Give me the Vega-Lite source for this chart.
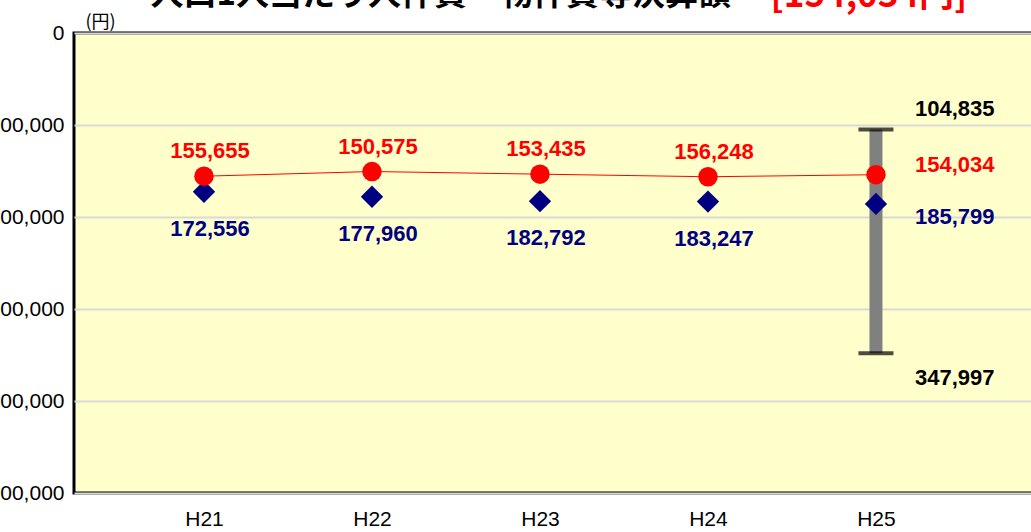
{
  "$schema": "https://vega.github.io/schema/vega-lite/v6.json",
  "autosize": {"type": "none"},
  "padding": {"left": 74, "top": 33, "right": 0, "bottom": 39},
  "width": 980,
  "height": 460,
  "background": "white",
  "config": {
    "view": {"fill": "#FFFFCC", "stroke": "black", "strokeWidth": 3},
    "font": "Liberation Sans"
  },
  "data": {
    "values": [
      {"year": "H21", "value": 155655, "avg": 172556, "lo": null, "hi": null},
      {"year": "H22", "value": 150575, "avg": 177960, "lo": null, "hi": null},
      {"year": "H23", "value": 153435, "avg": 182792, "lo": null, "hi": null},
      {"year": "H24", "value": 156248, "avg": 183247, "lo": null, "hi": null},
      {"year": "H25", "value": 154034, "avg": 185799, "lo": 104835, "hi": 347997}
    ]
  },
  "encoding": {
    "x": {
      "field": "year",
      "type": "ordinal",
      "scale": {"type": "point", "padding": 0.9167, "align": 0.422},
      "axis": null
    }
  },
  "resolve": {"axis": {"x": "independent", "y": "independent"}},
  "layer": [
    {
      "transform": [{"filter": "datum.lo != null"}],
      "mark": {"type": "rule", "color": "#808080", "strokeWidth": 13},
      "encoding": {
        "x": {
          "field": "year",
          "type": "ordinal",
          "scale": {"type": "point", "padding": 0.9167, "align": 0.422},
          "axis": {
            "orient": "bottom",
            "labelFont": "Liberation Sans",
            "labelFontSize": 21,
            "labelColor": "black",
            "labelPadding": 15,
            "labelAngle": 0,
            "ticks": false,
            "tickSize": 0,
            "domain": false,
            "grid": false,
            "title": "人口1人当たり人件費・物件費等決算額",
            "titleX": 76,
            "titleY": -489,
            "titleAlign": "left",
            "titleAnchor": null,
            "titleBaseline": "alphabetic",
            "titleFont": "Noto Sans CJK JP",
            "titleFontSize": 33,
            "titleFontWeight": "bold",
            "titleColor": "black"
          }
        },
        "y": {
          "field": "lo",
          "type": "quantitative",
          "scale": {"domain": [0, 500000], "reverse": true, "nice": false},
          "axis": {
            "orient": "left",
            "values": [0, 100000, 200000, 300000, 400000, 500000],
            "labelExpr": "format(datum.value, ',')",
            "labelFont": "Liberation Sans",
            "labelFontSize": 21,
            "labelColor": "black",
            "labelPadding": 10,
            "ticks": false,
            "tickSize": 0,
            "domain": false,
            "grid": true,
            "gridColor": "#D9D9D9",
            "gridWidth": 2,
            "title": "(円)",
            "titleAngle": 0,
            "titleX": 11,
            "titleY": -6,
            "titleAlign": "left",
            "titleAnchor": null,
            "titleBaseline": "alphabetic",
            "titleFont": "Noto Sans CJK JP",
            "titleFontSize": 18,
            "titleFontWeight": "normal",
            "titleColor": "black"
          }
        },
        "y2": {"field": "hi"}
      }
    },
    {
      "transform": [{"filter": "datum.lo != null"}],
      "mark": {"type": "tick", "color": "black", "size": 35, "thickness": 4},
      "encoding": {
        "y": {"field": "lo", "type": "quantitative", "axis": null}
      }
    },
    {
      "transform": [{"filter": "datum.hi != null"}],
      "mark": {"type": "tick", "color": "black", "size": 35, "thickness": 4},
      "encoding": {
        "y": {"field": "hi", "type": "quantitative", "axis": null}
      }
    },
    {
      "mark": {"type": "point", "shape": "diamond", "filled": true, "color": "#000080", "size": 500, "opacity": 1},
      "encoding": {
        "y": {"field": "avg", "type": "quantitative", "axis": null}
      }
    },
    {
      "mark": {"type": "line", "color": "#FF0000", "strokeWidth": 1},
      "encoding": {
        "y": {"field": "value", "type": "quantitative", "axis": null}
      }
    },
    {
      "mark": {"type": "circle", "color": "#FF0000", "size": 380, "opacity": 1},
      "encoding": {
        "x": {
          "field": "year",
          "type": "ordinal",
          "scale": {"type": "point", "padding": 0.9167, "align": 0.422},
          "axis": {
            "orient": "top",
            "labels": false,
            "ticks": false,
            "domain": false,
            "grid": false,
            "title": "[154,034円]",
            "titleX": 696,
            "titleY": -27,
            "titleAlign": "left",
            "titleAnchor": null,
            "titleBaseline": "alphabetic",
            "titleFont": "Noto Sans CJK JP",
            "titleFontSize": 35,
            "titleFontWeight": "bold",
            "titleColor": "#FF0000"
          }
        },
        "y": {"field": "value", "type": "quantitative", "axis": null}
      }
    },
    {
      "transform": [{"filter": "datum.year != 'H25'"}],
      "mark": {"type": "text", "color": "#FF0000", "fontSize": 22, "fontWeight": "bold", "dx": 6, "dy": -25, "baseline": "middle", "align": "center"},
      "encoding": {
        "y": {"field": "value", "type": "quantitative", "axis": null},
        "text": {"field": "value", "type": "quantitative", "format": ","}
      }
    },
    {
      "transform": [{"filter": "datum.year != 'H25'"}],
      "mark": {"type": "text", "color": "#000080", "fontSize": 22, "fontWeight": "bold", "dx": 6, "dy": 37, "baseline": "middle", "align": "center"},
      "encoding": {
        "y": {"field": "avg", "type": "quantitative", "axis": null},
        "text": {"field": "avg", "type": "quantitative", "format": ","}
      }
    },
    {
      "transform": [{"filter": "datum.year == 'H25'"}],
      "mark": {"type": "text", "color": "#FF0000", "fontSize": 22, "fontWeight": "bold", "dx": 39, "dy": -10, "baseline": "middle", "align": "left"},
      "encoding": {
        "y": {"field": "value", "type": "quantitative", "axis": null},
        "text": {"field": "value", "type": "quantitative", "format": ","}
      }
    },
    {
      "transform": [{"filter": "datum.year == 'H25'"}],
      "mark": {"type": "text", "color": "#000080", "fontSize": 22, "fontWeight": "bold", "dx": 39, "dy": 13, "baseline": "middle", "align": "left"},
      "encoding": {
        "y": {"field": "avg", "type": "quantitative", "axis": null},
        "text": {"field": "avg", "type": "quantitative", "format": ","}
      }
    },
    {
      "transform": [{"filter": "datum.lo != null"}],
      "mark": {"type": "text", "color": "black", "fontSize": 22, "fontWeight": "bold", "dx": 39, "dy": -20, "baseline": "middle", "align": "left"},
      "encoding": {
        "y": {"field": "lo", "type": "quantitative", "axis": null},
        "text": {"field": "lo", "type": "quantitative", "format": ","}
      }
    },
    {
      "transform": [{"filter": "datum.hi != null"}],
      "mark": {"type": "text", "color": "black", "fontSize": 22, "fontWeight": "bold", "dx": 39, "dy": 25, "baseline": "middle", "align": "left"},
      "encoding": {
        "y": {"field": "hi", "type": "quantitative", "axis": null},
        "text": {"field": "hi", "type": "quantitative", "format": ","}
      }
    }
  ]
}
